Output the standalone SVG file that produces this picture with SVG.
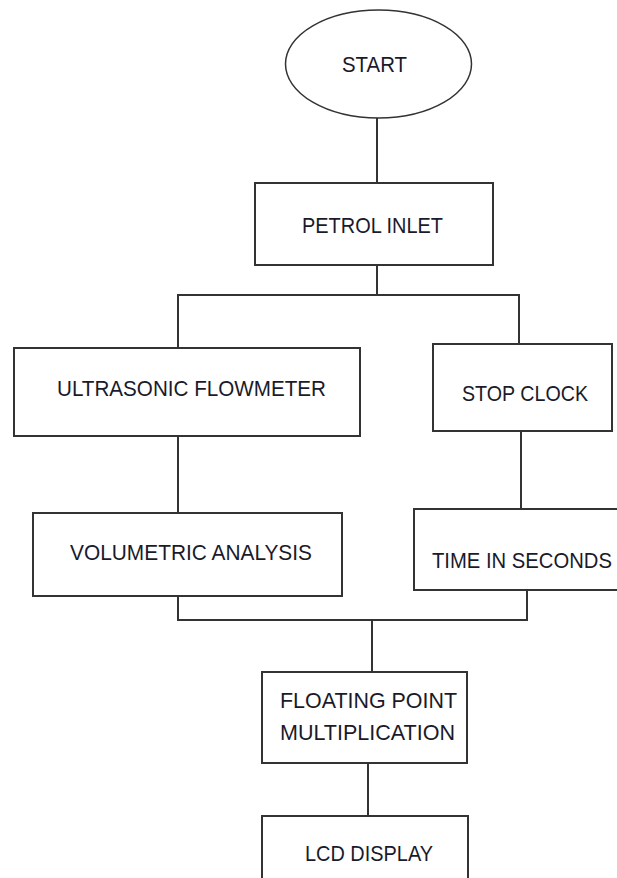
<svg xmlns="http://www.w3.org/2000/svg" width="617" height="878" viewBox="0 0 617 878">
<style>
.box{fill:#fff;stroke:#333;stroke-width:2}
.ln{fill:none;stroke:#333;stroke-width:2}
text{font-family:"Liberation Sans",Arial,sans-serif;font-size:22px;fill:#1a1a2a}
</style>
<rect width="617" height="878" fill="#fff"/>
<g id="connectors">
<path class="ln" d="M377 118V183"/>
<path class="ln" d="M377 265V295"/>
<path class="ln" d="M178 348V295H519V344"/>
<path class="ln" d="M178 436V513"/>
<path class="ln" d="M521 431V509"/>
<path class="ln" d="M178 596V620H527V590"/>
<path class="ln" d="M372 620V672"/>
<path class="ln" d="M368 763V816"/>
</g>
<g id="start">
<ellipse cx="378.5" cy="64" rx="93" ry="54" fill="#fff" stroke="#333" stroke-width="1.5"/>
<text x="342" y="71.5" textLength="65" lengthAdjust="spacingAndGlyphs">START</text>
</g>
<g id="petrol">
<rect class="box" x="255" y="183" width="238" height="82"/>
<text x="302" y="233" textLength="141" lengthAdjust="spacingAndGlyphs">PETROL INLET</text>
</g>
<g id="ultrasonic">
<rect class="box" x="14" y="348" width="346" height="88"/>
<text x="57" y="396" textLength="269" lengthAdjust="spacingAndGlyphs">ULTRASONIC FLOWMETER</text>
</g>
<g id="stopclock">
<rect class="box" x="433" y="344" width="179" height="87"/>
<text x="462" y="401" textLength="126" lengthAdjust="spacingAndGlyphs">STOP CLOCK</text>
</g>
<g id="volumetric">
<rect class="box" x="33" y="513" width="309" height="83"/>
<text x="70" y="560" textLength="242" lengthAdjust="spacingAndGlyphs">VOLUMETRIC ANALYSIS</text>
</g>
<g id="time">
<rect class="box" x="414" y="509" width="215" height="81"/>
<text x="432" y="568" textLength="180" lengthAdjust="spacingAndGlyphs">TIME IN SECONDS</text>
</g>
<g id="floating">
<rect class="box" x="262" y="672" width="205" height="91"/>
<text x="280" y="708" textLength="177" lengthAdjust="spacingAndGlyphs">FLOATING POINT</text>
<text x="280" y="740" textLength="175" lengthAdjust="spacingAndGlyphs">MULTIPLICATION</text>
</g>
<g id="lcd">
<rect class="box" x="262" y="816" width="206" height="80"/>
<text x="305" y="861" textLength="128" lengthAdjust="spacingAndGlyphs">LCD DISPLAY</text>
</g>
</svg>
